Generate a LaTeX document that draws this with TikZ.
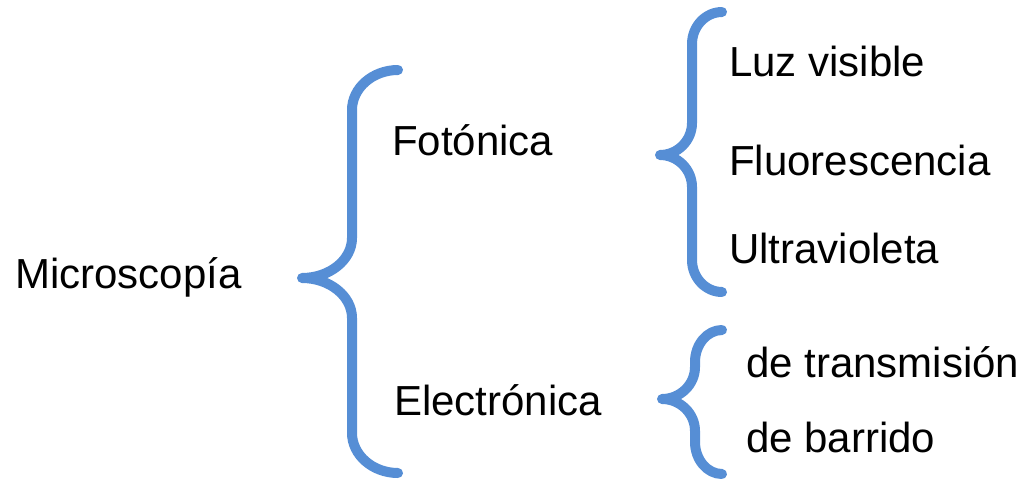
\documentclass[tikz,border=0pt]{standalone}
\usepackage{fontspec}
\setmainfont{Liberation Sans}
\definecolor{llaveazul}{RGB}{86,142,213}
\tikzset{
	llave/.style={draw=llaveazul, line width=10pt, line cap=round, line join=round},
	texto/.style={anchor=base west, inner sep=0pt, font=\fontsize{42}{50}\selectfont}
}
% #1 x de la recta, #2 x de los extremos, #3 x de la punta, #4 y arriba, #5 y punta, #6 y abajo, #7 radio
\newcommand{\llavetrazo}[7]{%
	\draw [llave] (#2,#4) .. controls ({#1+0.45*(#2-#1)},#4) and (#1,#4+0.45*#7) .. (#1,#4+#7) -- (#1,#5-#7)
		.. controls (#1,#5-0.45*#7) and ({#1-0.45*(#1-#3)},#5) .. (#3,#5)
		.. controls ({#1-0.45*(#1-#3)},#5) and (#1,#5+0.45*#7) .. (#1,#5+#7)
		-- (#1,#6-#7) .. controls (#1,#6-0.45*#7) and ({#1+0.45*(#2-#1)},#6) .. (#2,#6);}
\begin{document}
\begin{tikzpicture}[x=1pt,y=-1pt]
			\useasboundingbox (0,0) rectangle (1024,487);
			% textos
			\node [texto] (micro) at (15,288) {Microscopía};
			\node [texto] (foto) at (392,155) {Fotónica};
			\node [texto] (elec) at (394,415) {Electrónica};
			\node [texto] (luz) at (729,77) {Luz visible};
			\node [texto] (fluo) at (729,175) {Fluorescencia};
			\node [texto] (ultra) at (729,263) {Ultravioleta};
			\node [texto] (trans) at (746,377) {de transmisión};
			\node [texto] (barr) at (746,452) {de barrido};
			% llaves
			\llavetrazo{352}{398}{302}{70}{278}{473}{40}
			\llavetrazo{692}{722}{660}{12}{155}{292}{32}
			\llavetrazo{695}{722}{662}{330}{399}{474}{32}
		\end{tikzpicture}
\end{document}
